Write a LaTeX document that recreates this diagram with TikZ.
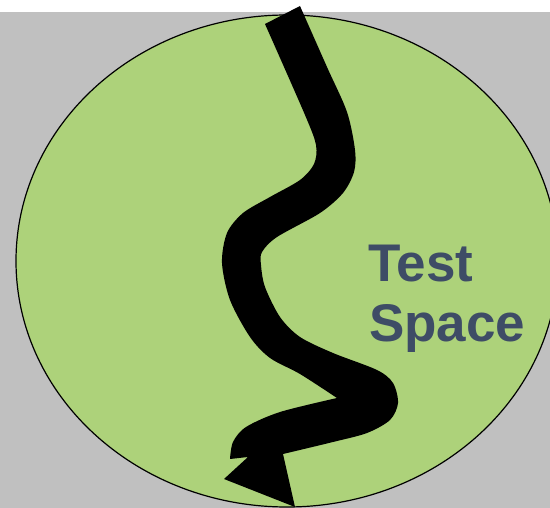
\documentclass[tikz,border=0pt]{standalone}
\usepackage{fontspec}
\setmainfont{Liberation Sans}
\definecolor{bggray}{RGB}{192,192,192}
\definecolor{spacegreen}{RGB}{173,210,122}
\definecolor{labelblue}{RGB}{62,76,102}
\begin{document}
\begin{tikzpicture}[x=1pt,y=-1pt,
  label/.style={anchor=base west, inner sep=0pt, font=\bfseries\fontsize{53}{60}\selectfont, text=labelblue}]
\useasboundingbox (0,0) rectangle (550,508);
\clip (0,0) rectangle (550,508);
\fill[white] (0,0) rectangle (550,508);
\fill[bggray] (0,12) rectangle (550,508);
\draw[fill=spacegreen, line width=1.2pt] (287,261) ellipse [x radius=271, y radius=246];
\fill[black] (265,24) -- (300,6) -- plot[smooth] coordinates {(300,6) (327,67) (347,112) (355,150) (354,172) (343,193) (320,213) (277,237) (262,252) (261,265) (265,287) (280,317) (300,337) (333,353) (377,370) (393,383) (398,403) (390,420) (367,433) (333,442) (283,454)}
  -- (295,507) -- (224,479) -- (248,457) -- (230,459)
  -- plot[smooth] coordinates {(230,459) (233,442) (246,427) (280,412) (337,398)}
  -- plot[smooth] coordinates {(337,398) (300,374) (270,358) (250,337) (230,300) (222,263) (227,233) (243,213) (270,197) (300,180) (314,164) (316,145) (305,115) (265,24)} -- cycle;
\node[label] (test) at (368,282) {Test};
\node[label] (space) at (369,342) {Space};
\end{tikzpicture}
\end{document}
